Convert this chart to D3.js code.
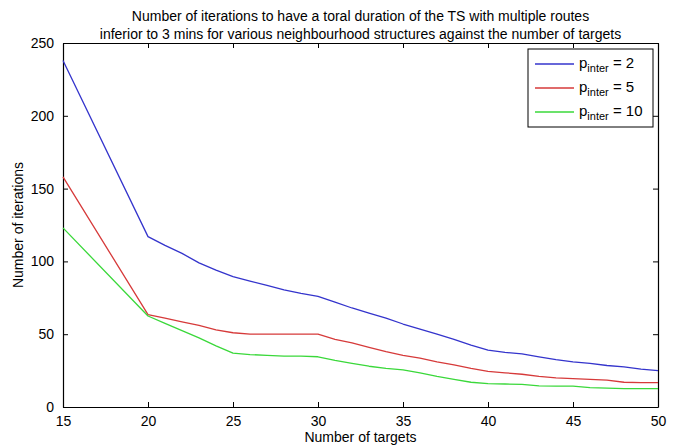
<!DOCTYPE html>
<html>
<head>
<meta charset="utf-8">
<script src="https://cdn.jsdelivr.net/npm/d3@7"></script>
<style>
  body { margin: 0; background: #fff; }
  svg { display: block; }
</style>
</head>
<body>
<svg></svg>
<script>
// number of targets
var targets = [15, 20, 21, 22, 23, 24, 25, 26, 27, 28, 29, 30, 31, 32, 33, 34, 35,
               36, 37, 38, 39, 40, 41, 42, 43, 44, 45, 46, 47, 48, 49, 50];
// iterations for each p_inter
var pInter2 = [238, 117, 111, 105.5, 99, 94, 89.5, 86.5, 83.5, 80.5, 78, 76, 72, 68, 64.5, 61, 57,
               53.5, 50, 46.5, 42.5, 39, 37.5, 36.5, 34.5, 32.5, 31, 30, 28.5, 27.5, 26, 25];
var pInter5 = [158, 63.5, 61, 58.5, 56, 53, 51, 50, 50, 50, 50, 50, 46.5, 44, 41, 38, 35.5,
               33.5, 31, 29, 26.5, 24.5, 23.5, 22.5, 21, 20, 19.5, 19, 18.5, 17, 16.8, 16.8];
var pInter10 = [123, 62.5, 57.5, 52.5, 47.5, 42, 37, 36, 35.5, 35, 35, 34.5, 32, 30, 28, 26.5, 25.5,
                23.5, 21, 19, 17, 16, 15.8, 15.5, 14.5, 14.4, 14.4, 13.3, 13, 12.6, 12.6, 12.6];
var legendNames = ["2", "5", "10"];
var xTicks = [15, 20, 25, 30, 35, 40, 45, 50];
var yTicks = [0, 50, 100, 150, 200, 250];

var svgWidth = 682, svgHeight = 447;
var margin = { top: 43, right: 24, bottom: 40, left: 63 };
var width = svgWidth - margin.left - margin.right;
var height = svgHeight - margin.top - margin.bottom;
var font = "Liberation Sans, Arial, sans-serif";

var svg = d3.select("svg")
    .attr("width", svgWidth)
    .attr("height", svgHeight);

svg.append("rect")
    .attr("width", "100%")
    .attr("height", "100%")
    .attr("fill", "white");

var g = svg.append("g")
    .attr("transform", "translate(" + margin.left + "," + margin.top + ")");

var x = d3.scaleLinear().domain([15, 50]).range([0, width]);
var y = d3.scaleLinear().domain([0, 250]).range([height, 0]);

// axes, MATLAB style: inward ticks on all four sides
function styleAxis(sel) {
    sel.selectAll("text")
        .attr("font-family", font)
        .attr("font-size", "14px")
        .attr("fill", "#000");
    sel.selectAll("line, path").attr("stroke", "#000");
}

g.append("g")
    .attr("transform", "translate(0," + height + ")")
    .call(d3.axisBottom(x).tickValues(xTicks).tickSizeInner(-5).tickSizeOuter(0).tickPadding(9))
    .call(styleAxis);

g.append("g")
    .call(d3.axisLeft(y).tickValues(yTicks).tickSizeInner(-5).tickSizeOuter(0).tickPadding(9))
    .call(styleAxis);

g.append("g")
    .call(d3.axisTop(x).tickValues(xTicks).tickSizeInner(-5).tickSizeOuter(0).tickFormat(""))
    .call(styleAxis);

g.append("g")
    .attr("transform", "translate(" + width + ",0)")
    .call(d3.axisRight(y).tickValues(yTicks).tickSizeInner(-5).tickSizeOuter(0).tickFormat(""))
    .call(styleAxis);

g.selectAll(".domain").attr("stroke-width", 1.2);

// lines
var series = [
    { name: legendNames[0], values: pInter2, color: "#3434cc" },
    { name: legendNames[1], values: pInter5, color: "#d63a3a" },
    { name: legendNames[2], values: pInter10, color: "#3ad83a" }
];

var line = d3.line()
    .x(function (d, i) { return x(targets[i]); })
    .y(function (d) { return y(d); });

series.forEach(function (s) {
    g.append("path")
        .datum(s.values)
        .attr("fill", "none")
        .attr("stroke", s.color)
        .attr("stroke-width", 1.3)
        .attr("stroke-linejoin", "round")
        .attr("d", line);
});

// title
var title = svg.append("text")
    .attr("font-family", font)
    .attr("font-size", "14px")
    .attr("text-anchor", "middle");
title.append("tspan").attr("x", margin.left + width / 2).attr("y", 21)
    .text("Number of iterations to have a toral duration of the TS with multiple routes");
title.append("tspan").attr("x", margin.left + width / 2).attr("y", 39)
    .text("inferior to 3 mins for various neighbourhood structures against the number of targets");

// axis labels
svg.append("text")
    .attr("font-family", font)
    .attr("font-size", "14px")
    .attr("text-anchor", "middle")
    .attr("x", margin.left + width / 2)
    .attr("y", 442)
    .text("Number of targets");

svg.append("text")
    .attr("font-family", font)
    .attr("font-size", "14px")
    .attr("text-anchor", "middle")
    .attr("transform", "translate(23," + (margin.top + height / 2) + ") rotate(-90)")
    .text("Number of iterations");

// legend
var legend = svg.append("g").attr("transform", "translate(528,49)");
legend.append("rect")
    .attr("width", 125)
    .attr("height", 78)
    .attr("fill", "white")
    .attr("stroke", "#000")
    .attr("stroke-width", 1);

series.forEach(function (s, i) {
    var row = legend.append("g").attr("transform", "translate(0," + (15 + i * 24) + ")");
    row.append("line")
        .attr("x1", 7).attr("x2", 46)
        .attr("stroke", s.color)
        .attr("stroke-width", 1.3);
    var t = row.append("text")
        .attr("font-family", font)
        .attr("font-size", "15px")
        .attr("x", 51)
        .attr("y", 4);
    t.append("tspan").text("p");
    t.append("tspan").attr("font-size", "11px").attr("dy", 4).text("inter");
    t.append("tspan").attr("dy", -4).text(" = " + s.name);
});
</script>
</body>
</html>
